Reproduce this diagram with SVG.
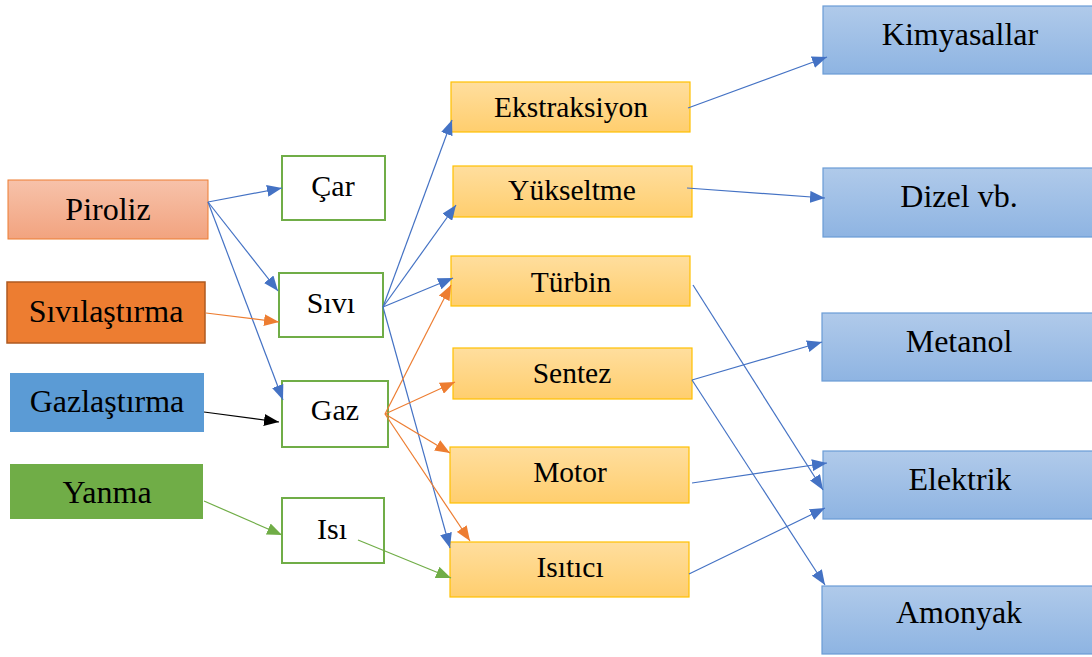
<svg xmlns="http://www.w3.org/2000/svg" width="1092" height="657" viewBox="0 0 1092 657">
<defs>
<linearGradient id="gPir" x1="0" y1="0" x2="0" y2="1"><stop offset="0" stop-color="#F7C2AA"/><stop offset="1" stop-color="#F2A37F"/></linearGradient>
<linearGradient id="gOr" x1="0" y1="0" x2="0" y2="1"><stop offset="0" stop-color="#FFDE9E"/><stop offset="1" stop-color="#FFCE6E"/></linearGradient>
<linearGradient id="gBl" x1="0" y1="0" x2="0" y2="1"><stop offset="0" stop-color="#B0CAEA"/><stop offset="1" stop-color="#8EB4E2"/></linearGradient>
<marker id="aB" markerUnits="userSpaceOnUse" markerWidth="16" markerHeight="12" refX="15" refY="6" orient="auto"><path d="M0,0 L15,6 L0,12 Z" fill="#4472C4"/></marker>
<marker id="aO" markerUnits="userSpaceOnUse" markerWidth="16" markerHeight="12" refX="15" refY="6" orient="auto"><path d="M0,0 L15,6 L0,12 Z" fill="#ED7D31"/></marker>
<marker id="aK" markerUnits="userSpaceOnUse" markerWidth="16" markerHeight="12" refX="15" refY="6" orient="auto"><path d="M0,0 L15,6 L0,12 Z" fill="#000"/></marker>
<marker id="aG" markerUnits="userSpaceOnUse" markerWidth="16" markerHeight="12" refX="15" refY="6" orient="auto"><path d="M0,0 L15,6 L0,12 Z" fill="#70AD47"/></marker>
</defs>
<style>
text{font-family:"Liberation Serif","Times New Roman",serif;font-size:32px;fill:#000;text-anchor:middle}
.wg{fill:#fff;stroke:#70AD47;stroke-width:2}
.wg+text{font-size:30px}
.or{fill:url(#gOr);stroke:#FFC000;stroke-width:1.2}
.or+text{font-size:29.5px}
.bl{fill:url(#gBl);stroke:#6A9CD6;stroke-width:1.2}
.cb{stroke:#4472C4;stroke-width:1.2;fill:none;marker-end:url(#aB)}
.co{stroke:#ED7D31;stroke-width:1.2;fill:none;marker-end:url(#aO)}
.ck{stroke:#000;stroke-width:1.2;fill:none;marker-end:url(#aK)}
.cg{stroke:#70AD47;stroke-width:1.2;fill:none;marker-end:url(#aG)}
</style>
<rect width="1092" height="657" fill="#fff"/>

<g id="piroliz"><rect x="8" y="180" width="200" height="59" fill="url(#gPir)" stroke="#ED7D31" stroke-width="1"/><text x="108" y="220">Piroliz</text></g>
<g id="sivilastirma"><rect x="7" y="282" width="198" height="61" fill="#ED7D31" stroke="#AE5A21" stroke-width="1.5"/><text x="106" y="322">Sıvılaştırma</text></g>
<g id="gazlastirma"><rect x="10" y="373" width="194" height="59" fill="#5B9BD5"/><text x="107" y="412">Gazlaştırma</text></g>
<g id="yanma"><rect x="10" y="464" width="193" height="55" fill="#70AD47"/><text x="107" y="503">Yanma</text></g>

<g id="car"><rect class="wg" x="282" y="156" width="103" height="64"/><text x="333" y="196">Çar</text></g>
<g id="sivi"><rect class="wg" x="279" y="273" width="104" height="64"/><text x="331" y="313">Sıvı</text></g>
<g id="gaz"><rect class="wg" x="282" y="381" width="106" height="66"/><text x="335" y="420">Gaz</text></g>
<g id="isi"><rect class="wg" x="282" y="498" width="102" height="65"/><text x="332" y="539">Isı</text></g>

<g id="ekstraksiyon"><rect class="or" x="451" y="82" width="239" height="50"/><text x="571" y="117">Ekstraksiyon</text></g>
<g id="yukseltme"><rect class="or" x="453" y="166" width="239" height="51"/><text x="572" y="200">Yükseltme</text></g>
<g id="turbin"><rect class="or" x="451" y="256" width="239" height="50"/><text x="571" y="292">Türbin</text></g>
<g id="sentez"><rect class="or" x="453" y="348" width="239" height="51"/><text x="572" y="383">Sentez</text></g>
<g id="motor"><rect class="or" x="450" y="447" width="239" height="56"/><text x="570" y="482">Motor</text></g>
<g id="isitici"><rect class="or" x="450" y="542" width="239" height="55"/><text x="570" y="577">Isıtıcı</text></g>

<g id="kimyasallar"><rect class="bl" x="823" y="6" width="272" height="68"/><text x="960" y="45">Kimyasallar</text></g>
<g id="dizel"><rect class="bl" x="823" y="168" width="272" height="69"/><text x="959" y="207">Dizel vb.</text></g>
<g id="metanol"><rect class="bl" x="822" y="313" width="273" height="68"/><text x="959" y="352">Metanol</text></g>
<g id="elektrik"><rect class="bl" x="823" y="451" width="272" height="68"/><text x="960" y="490">Elektrik</text></g>
<g id="amonyak"><rect class="bl" x="822" y="586" width="273" height="68"/><text x="959" y="623">Amonyak</text></g>

<g id="connectors">
<line class="cb" x1="208" y1="202" x2="282" y2="188"/>
<line class="cb" x1="208" y1="202" x2="278" y2="291"/>
<line class="cb" x1="208" y1="202" x2="283" y2="400"/>
<line class="co" x1="206" y1="313" x2="279" y2="322"/>
<line class="ck" x1="204" y1="412" x2="279" y2="422"/>
<line class="cg" x1="204" y1="501" x2="282" y2="535"/>
<line class="cg" x1="358" y1="540" x2="451" y2="578"/>

<line class="cb" x1="383" y1="307" x2="452" y2="120"/>
<line class="cb" x1="383" y1="307" x2="456" y2="205"/>
<line class="cb" x1="383" y1="307" x2="453" y2="278"/>
<line class="cb" x1="383" y1="307" x2="450" y2="548"/>

<line class="co" x1="385" y1="414" x2="451" y2="285"/>
<line class="co" x1="385" y1="414" x2="455" y2="382"/>
<line class="co" x1="385" y1="414" x2="450" y2="453"/>
<line class="co" x1="385" y1="414" x2="470" y2="541"/>

<line class="cb" x1="688" y1="108" x2="827" y2="57"/>
<line class="cb" x1="687" y1="188" x2="825" y2="198"/>
<line class="cb" x1="693" y1="285" x2="823" y2="490"/>
<line class="cb" x1="692" y1="380" x2="822" y2="342"/>
<line class="cb" x1="692" y1="380" x2="825" y2="585"/>
<line class="cb" x1="692" y1="483" x2="827" y2="463"/>
<line class="cb" x1="689" y1="574" x2="825" y2="508"/>
</g>
</svg>
